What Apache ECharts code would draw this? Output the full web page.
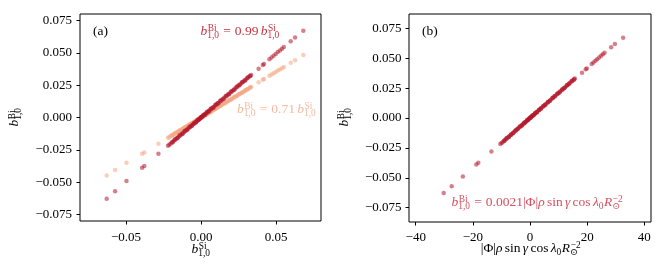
<!DOCTYPE html>
<html><head><meta charset="utf-8">
<script src="https://cdn.jsdelivr.net/npm/echarts@6/dist/echarts.min.js"></script>
<style>html,body{margin:0;padding:0;background:#fff}#main{width:664px;height:274px}</style>
</head><body><div id="main"></div>
<script>
// ---- data ----
const siX = [-0.0629,-0.0573,-0.0497,-0.0393,-0.0378,-0.0284,
-0.0220,-0.0212,-0.0203,-0.0195,-0.0186,-0.0178,-0.0170,-0.0161,-0.0153,-0.0145,-0.0137,-0.0128,-0.0120,-0.0112,-0.0104,-0.0096,-0.0088,-0.0080,-0.0072,-0.0065,-0.0058,-0.0051,-0.0044,-0.0038,-0.0032,-0.0026,-0.0020,-0.0015,-0.0010,-0.0005,0.0000,0.0004,0.0009,0.0014,0.0019,0.0024,0.0030,0.0036,0.0042,0.0049,0.0056,0.0063,0.0070,0.0078,0.0086,0.0094,0.0102,0.0110,0.0118,0.0127,0.0136,0.0145,0.0154,0.0163,0.0172,0.0181,0.0190,0.0199,0.0208,0.0217,0.0226,0.0235,0.0244,0.0253,0.0262,0.0271,0.0280,0.0289,0.0298,0.0307,0.0316,0.0325,0.0334,
0.0384,0.0412,0.0420,0.0456,0.0470,0.0484,0.0498,0.0512,0.0526,0.0540,0.0552,0.0598,0.0627,0.0682,
-0.0190,-0.0174,-0.0157,-0.0141,-0.0124,-0.0108,-0.0092,-0.0076,-0.0061,-0.0047,-0.0035,-0.0023,-0.0012,-0.0002,0.0007,0.0017,0.0027,0.0039,0.0052,0.0066,0.0082,0.0098,0.0114,0.0131,0.0149,0.0167,0.0185,0.0203,0.0221,0.0239,0.0257,0.0275,0.0293,0.0311,0.0329];
const biDark = [-0.0627,-0.0570,-0.0490,-0.0388,-0.0375,-0.0280,
-0.0218,-0.0209,-0.0202,-0.0191,-0.0185,-0.0175,-0.0170,-0.0158,-0.0152,-0.0142,-0.0137,-0.0125,-0.0120,-0.0109,-0.0104,-0.0093,-0.0088,-0.0078,-0.0073,-0.0062,-0.0058,-0.0049,-0.0045,-0.0036,-0.0033,-0.0024,-0.0021,-0.0013,-0.0011,-0.0003,-0.0001,0.0006,0.0008,0.0016,0.0018,0.0026,0.0029,0.0038,0.0040,0.0051,0.0054,0.0065,0.0068,0.0079,0.0083,0.0095,0.0100,0.0111,0.0115,0.0127,0.0133,0.0145,0.0151,0.0163,0.0169,0.0181,0.0187,0.0198,0.0205,0.0216,0.0223,0.0234,0.0241,0.0252,0.0258,0.0269,0.0276,0.0287,0.0294,0.0305,0.0312,0.0323,0.0330,
0.0378,0.0408,0.0415,0.0451,0.0465,0.0479,0.0492,0.0507,0.0520,0.0534,0.0546,0.0592,0.0620,0.0672,
-0.0193,-0.0168,-0.0159,-0.0135,-0.0127,-0.0102,-0.0095,-0.0070,-0.0064,-0.0042,-0.0038,-0.0019,-0.0015,0.0002,0.0004,0.0021,0.0023,0.0043,0.0047,0.0070,0.0077,0.0101,0.0109,0.0134,0.0143,0.0169,0.0179,0.0204,0.0214,0.0240,0.0250,0.0276,0.0286,0.0311,0.0322];
const biLight = [-0.0447,-0.0405,-0.0350,-0.0280,-0.0270,-0.0203,
-0.0156,-0.0151,-0.0143,-0.0139,-0.0132,-0.0127,-0.0120,-0.0115,-0.0108,-0.0104,-0.0097,-0.0092,-0.0085,-0.0080,-0.0073,-0.0069,-0.0062,-0.0058,-0.0051,-0.0047,-0.0041,-0.0037,-0.0031,-0.0028,-0.0022,-0.0019,-0.0014,-0.0011,-0.0007,-0.0004,0.0000,0.0003,0.0006,0.0010,0.0013,0.0017,0.0021,0.0026,0.0030,0.0035,0.0040,0.0045,0.0050,0.0055,0.0061,0.0067,0.0072,0.0078,0.0084,0.0090,0.0097,0.0103,0.0109,0.0116,0.0122,0.0129,0.0135,0.0141,0.0148,0.0154,0.0160,0.0167,0.0173,0.0180,0.0186,0.0192,0.0199,0.0205,0.0212,0.0218,0.0224,0.0231,0.0237,
0.0273,0.0293,0.0298,0.0324,0.0334,0.0344,0.0354,0.0364,0.0373,0.0383,0.0392,0.0425,0.0445,0.0484,
-0.0137,-0.0121,-0.0114,-0.0098,-0.0090,-0.0075,-0.0067,-0.0052,-0.0045,-0.0032,-0.0026,-0.0015,-0.0010,0.0000,0.0006,0.0011,0.0021,0.0026,0.0039,0.0045,0.0060,0.0068,0.0083,0.0091,0.0108,0.0117,0.0134,0.0142,0.0159,0.0168,0.0185,0.0193,0.0210,0.0219,0.0236];
const phiX = [-30.2,-27.4,-23.5,-18.8,-18.1,-13.5,
-10.4,-9.95,-9.6,-9.1,-8.8,-8.3,-8.1,-7.5,-7.25,-6.75,-6.5,-5.95,-5.7,-5.2,-4.95,-4.45,-4.2,-3.7,-3.5,-2.95,-2.75,-2.35,-2.15,-1.7,-1.55,-1.15,-1.0,-0.6,-0.5,-0.15,-0.05,0.3,0.4,0.75,0.85,1.25,1.4,1.8,1.9,2.45,2.55,3.1,3.25,3.75,3.95,4.5,4.75,5.3,5.5,6.05,6.35,6.9,7.2,7.75,8.05,8.6,8.9,9.45,9.75,10.3,10.6,11.15,11.5,12.0,12.3,12.8,13.15,13.65,14.0,14.5,14.85,15.4,15.7,
18.2,19.5,19.9,21.6,22.2,22.9,23.5,24.2,24.9,25.5,26.1,28.4,29.7,32.6,
-9.0,-8.2,-7.4,-6.6,-5.9,-5.0,-4.4,-3.5,-2.9,-2.1,-1.7,-1.0,-0.6,0.0,0.3,0.9,1.2,1.9,2.4,3.2,3.8,4.7,5.3,6.3,6.9,7.9,8.6,9.6,10.3,11.3,12.0,13.0,13.7,14.7,15.4];
const xTicksA = [-0.05, 0, 0.05];
const yTicks = [-0.075, -0.05, -0.025, 0, 0.025, 0.05, 0.075];
const xTicksB = [-40, -20, 0, 20, 40];

// ---- helpers ----
const FONT = '"Liberation Serif", "DejaVu Serif", serif';
const cv = document.createElement('canvas').getContext('2d');
function measure(t, fs, it) { cv.font = (it ? 'italic ' : '') + fs + 'px ' + FONT; return cv.measureText(t).width; }
function txt(t, x, y, fs, it, color) {
  return {type:'text', x:x, y:y, silent:true, style:{text:t, font:(it?'italic ':'') + fs + 'px ' + FONT, fill:color, textAlign:'left', textVerticalAlign:'middle'}};
}
function mathGroup(tokens, o) {
  const fs = o.fs, sfs = fs * 0.7, color = o.color, ch = [];
  let cx = 0;
  const MID = 0.34;
  for (const k of tokens) {
    if (k.gap) { cx += k.gap * fs; continue; }
    if (k.t) { ch.push(txt(k.t, cx, -MID * fs, fs, k.it, color)); cx += measure(k.t, fs, k.it); continue; }
    let ws = 0, wb = 0;
    if (k.sup) { ws = measure(k.sup, sfs, false); ch.push(txt(k.sup, cx + 0.04 * fs, -0.30 * fs - MID * sfs, sfs, false, color)); }
    if (k.sub) { wb = measure(k.sub, sfs, false); ch.push(txt(k.sub, cx, 0.20 * fs - MID * sfs, sfs, false, color)); }
    cx += Math.max(ws + 0.04 * fs, wb) + 0.04 * fs;
  }
  const off = o.align === 'center' ? -cx / 2 : (o.align === 'right' ? -cx : 0);
  ch.forEach(c => c.x += off);
  return {type:'group', x:o.x, y:o.y, rotation:o.rotation || 0, silent:true, children:ch};
}
const B = (sup) => [{t:'b', it:true}, {sup:sup, sub:'1,0'}];
const phiExpr = [{t:'|Φ|'}, {t:'ρ', it:true}, {gap:0.17}, {t:'sin'}, {gap:0.17}, {t:'γ', it:true}, {gap:0.17}, {t:'cos'}, {gap:0.17}, {t:'λ', it:true}, {sub:'0'}, {t:'R', it:true}, {sup:'−2', sub:'⊙'}];
const eq = (coef, rhs) => [...B('Bi'), {gap:0.28}, {t:'='}, {gap:0.28}, {t:coef}, ...rhs];

const fmt = (d) => (v) => { const s = Math.abs(v) < 1e-9 ? (0).toFixed(d) : Math.abs(v).toFixed(d); return (v < -1e-9 ? '−' : '') + s; };
function xAxis(gi, min, max, ticks, dec, margin) {
  return {gridIndex:gi, type:'value', min:min, max:max, splitLine:{show:false},
    axisLine:{show:false, onZero:false},
    axisTick:{show:true, inside:false, length:3.5, lineStyle:{color:'#000', width:1}, customValues:ticks},
    axisLabel:{customValues:ticks, formatter:fmt(dec), margin:margin, color:'#000', fontFamily:FONT, fontSize:13}};
}
function yAxis(gi, min, max, margin) {
  return {gridIndex:gi, type:'value', min:min, max:max, splitLine:{show:false},
    axisLine:{show:false, onZero:false},
    axisTick:{show:true, inside:false, length:3.5, lineStyle:{color:'#000', width:1}, customValues:yTicks},
    axisLabel:{customValues:yTicks, formatter:fmt(3), margin:margin, color:'#000', fontFamily:FONT, fontSize:13}};
}
const zip = (a, b) => a.map((v, i) => [v, b[i]]);
const pt = (color, op) => ({type:'scatter', symbol:'circle', symbolSize:4.5, silent:true, itemStyle:{color:color, opacity:op}, emphasis:{disabled:true}});

const chart = echarts.init(document.getElementById('main'));
chart.setOption({
  animation:false,
  grid:[{left:80, top:14, width:241, height:207, show:true, borderColor:'#000', borderWidth:1, backgroundColor:'transparent'},
        {left:409, top:14, width:242, height:208, show:true, borderColor:'#000', borderWidth:1, backgroundColor:'transparent'}],
  xAxis:[xAxis(0, -0.0807, 0.08, xTicksA, 2, 10), xAxis(1, -42.35, 42.35, xTicksB, 0, 9.5)],
  yAxis:[yAxis(0, -0.08, 0.0802, 8), yAxis(1, -0.087, 0.087, 7.5)],
  series:[
    Object.assign(pt('#f4a582', 0.55), {xAxisIndex:0, yAxisIndex:0, data:zip(siX, biLight)}),
    Object.assign(pt('#b2182b', 0.55), {xAxisIndex:0, yAxisIndex:0, data:zip(siX, biDark)}),
    Object.assign(pt('#b2182b', 0.55), {xAxisIndex:1, yAxisIndex:1, data:zip(phiX, biDark)})
  ],
  graphic:[
    mathGroup([{t:'(a)'}], {x:93, y:36, fs:13.5, color:'#000'}),
    mathGroup([{t:'(b)'}], {x:422, y:36, fs:13.5, color:'#000'}),
    mathGroup(eq('0.99', [{gap:0.17}, ...B('Si')]), {x:200.5, y:35.7, fs:13.5, color:'#c8323f'}),
    mathGroup(eq('0.71', [{gap:0.17}, ...B('Si')]), {x:237, y:114, fs:13.5, color:'#f7b9a1'}),
    mathGroup(eq('0.0021', phiExpr), {x:451.5, y:206.7, fs:13.5, color:'#d4505e'}),
    mathGroup(B('Si'), {x:201, y:254, fs:13.5, color:'#000', align:'center'}),
    mathGroup(phiExpr, {x:531, y:253, fs:13.5, color:'#000', align:'center'}),
    mathGroup(B('Bi'), {x:19.5, y:117, fs:13.5, color:'#000', align:'center', rotation:Math.PI/2}),
    mathGroup(B('Bi'), {x:349, y:117, fs:13.5, color:'#000', align:'center', rotation:Math.PI/2})
  ]
});
</script></body></html>
